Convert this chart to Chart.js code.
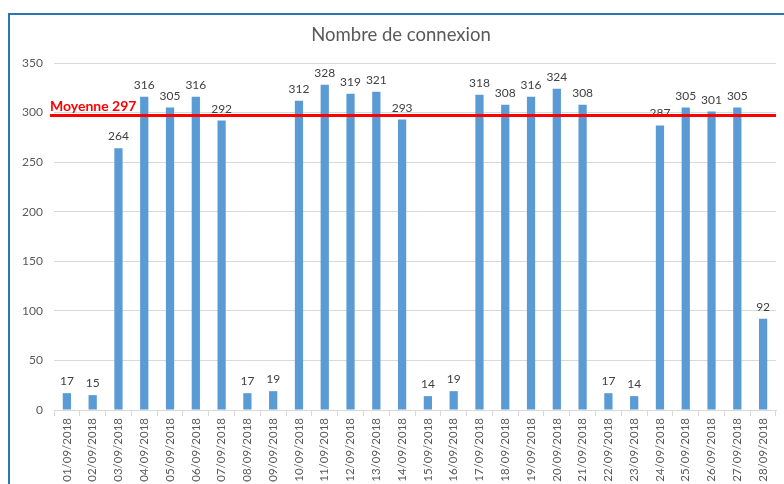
<!DOCTYPE html>
<html>
<head>
<meta charset="utf-8">
<script src="https://cdn.jsdelivr.net/npm/chart.js@4/dist/chart.umd.min.js"></script>
<style>
  html, body { margin: 0; padding: 0; background: #fff; }
  #wrap { position: relative; width: 784px; height: 484px; overflow: hidden; }
  #frame { position: absolute; left: 8px; top: 13px; width: 800px; height: 500px;
           border-top: 2px solid #2E75B6; border-left: 2px solid #2E75B6; box-sizing: border-box; }
  canvas { position: absolute; left: 0; top: 0; }
</style>
</head>
<body>
<div id="wrap">
  <div id="frame"></div>
  <canvas id="c" width="784" height="484"></canvas>
</div>
<script>
const chartTitle = 'Nombre de connexion';
const dates = ['01/09/2018','02/09/2018','03/09/2018','04/09/2018','05/09/2018','06/09/2018','07/09/2018',
  '08/09/2018','09/09/2018','10/09/2018','11/09/2018','12/09/2018','13/09/2018','14/09/2018',
  '15/09/2018','16/09/2018','17/09/2018','18/09/2018','19/09/2018','20/09/2018','21/09/2018',
  '22/09/2018','23/09/2018','24/09/2018','25/09/2018','26/09/2018','27/09/2018','28/09/2018'];
const connexions = [17,15,264,316,305,316,292,17,19,312,328,319,321,293,14,19,318,308,316,324,308,17,14,287,305,301,305,92];
const moyenne = 297;
const moyenneLabel = 'Moyenne 297';
const yTicks = [0,50,100,150,200,250,300,350];

const FONT = 'Lato, "Open Sans", sans-serif';

// Title, value labels and the average line
const overlay = {
  id: 'overlay',
  afterDatasetsDraw(chart) {
    const ctx = chart.ctx;
    const meta = chart.getDatasetMeta(0);
    ctx.save();
    ctx.font = '12px ' + FONT;
    ctx.fillStyle = '#404040';
    ctx.textAlign = 'center';
    ctx.textBaseline = 'alphabetic';
    meta.data.forEach((bar, i) => {
      ctx.fillText(String(connexions[i]), bar.x, bar.y - 8);
    });
    const y = chart.scales.y.getPixelForValue(moyenne);
    ctx.strokeStyle = '#FF0000';
    ctx.lineWidth = 3;
    ctx.beginPath();
    ctx.moveTo(50, y);
    ctx.lineTo(chart.chartArea.right, y);
    ctx.stroke();
    ctx.font = 'bold 14px ' + FONT;
    ctx.fillStyle = '#FF0000';
    ctx.textAlign = 'left';
    ctx.fillText(moyenneLabel, 50, y - 5);
    ctx.font = '18.5px ' + FONT;
    ctx.fillStyle = '#595959';
    ctx.textAlign = 'center';
    ctx.textBaseline = 'middle';
    ctx.fillText(chartTitle, 401, 35);
    ctx.restore();
  }
};

new Chart(document.getElementById('c'), {
  type: 'bar',
  data: {
    labels: dates,
    datasets: [{
      data: connexions,
      backgroundColor: '#5B9BD5',
      barPercentage: 0.32,
      categoryPercentage: 1
    }]
  },
  options: {
    responsive: false,
    animation: false,
    layout: { padding: { left: 10, right: 8, top: 63, bottom: 0 } },
    plugins: { legend: { display: false }, tooltip: { enabled: false } },
    scales: {
      x: {
        afterFit(s) { s.height = 74; },
        grid: { offset: true, drawOnChartArea: false, drawTicks: true, tickLength: 6, color: '#D9D9D9' },
        border: { color: '#D9D9D9' },
        ticks: { minRotation: 90, maxRotation: 90, autoSkip: false, padding: 2,
                 font: { family: FONT, size: 11.5 }, color: '#595959' }
      },
      y: {
        min: 0, max: 350,
        afterFit(s) { s.width = 44; },
        afterBuildTicks(s) { s.ticks = yTicks.map(v => ({ value: v })); },
        grid: { color: '#D9D9D9', drawTicks: false },
        border: { display: false },
        ticks: { padding: 11, font: { family: FONT, size: 12 }, color: '#595959' }
      }
    }
  },
  plugins: [overlay]
});
</script>
</body>
</html>
